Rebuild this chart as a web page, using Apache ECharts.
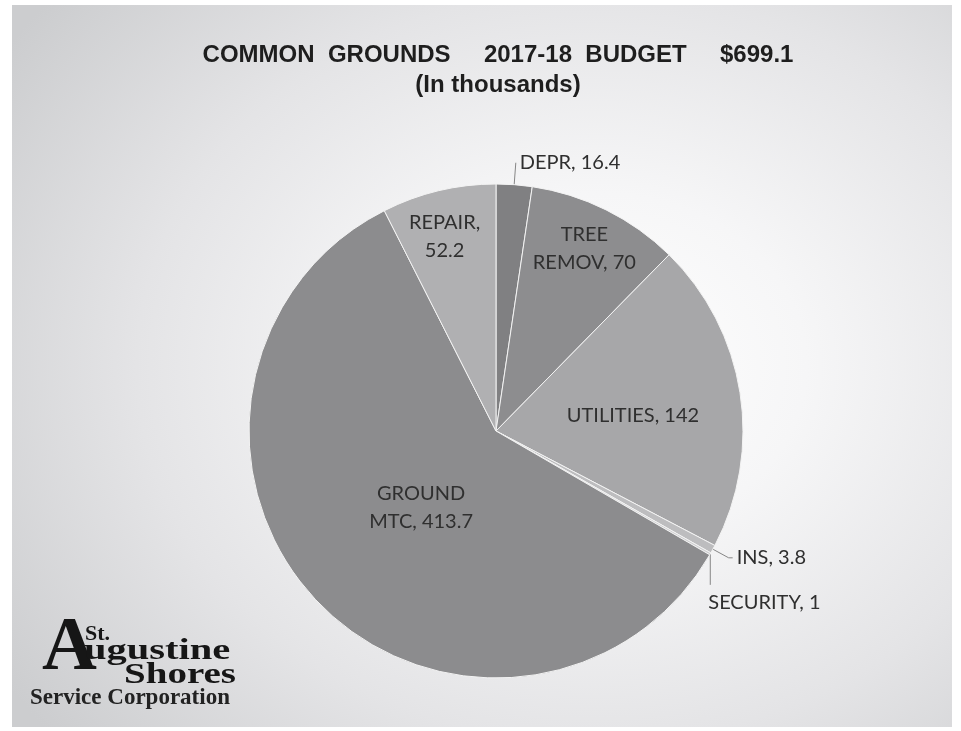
<!DOCTYPE html>
<html>
<head>
<meta charset="utf-8">
<script src="https://cdn.jsdelivr.net/npm/echarts@6/dist/echarts.min.js"></script>
<style>
  html, body { margin: 0; padding: 0; background: #ffffff; width: 961px; height: 731px; overflow: hidden; }
  #chart {
    position: absolute; left: 12px; top: 5px; width: 940px; height: 722px;
    background: radial-gradient(ellipse 75% 80% at 62% 50%, #ffffff 0%, #f6f6f7 30%, #e4e4e6 65%, #cccdcf 100%);
  }
</style>
</head>
<body>
<div id="chart"></div>
<script>
// ---- data ----
const titleLine1 = 'COMMON  GROUNDS     2017-18  BUDGET     $699.1';
const titleLine2 = '(In thousands)';
const categories = ['DEPR', 'TREE REMOV', 'UTILITIES', 'INS', 'SECURITY', 'GROUND MTC', 'REPAIR'];
const values = [16.4, 70, 142, 3.8, 1, 413.7, 52.2];
const sliceColors = ['#808082', '#8d8d8f', '#a7a7a9', '#bdbdbf', '#cfcfd1', '#8c8c8e', '#b0b0b2'];

// ---- label styling (per slice) ----
const labelStyle = {
  'DEPR':       { position: 'outside', fmt: '{b}, {c}', line: [22, 0] },
  'TREE REMOV': { position: 'inside', fmt: 'wrapName', dx: 32, dy: -69 },
  'UTILITIES':  { position: 'inside', fmt: '{b}, {c}', dx: 12, dy: 4 },
  'INS':        { position: 'outside', fmt: '{b}, {c}', line: [18, 4] },
  'SECURITY':   { position: 'outside', fmt: '{b}, {c}', line: [10, 0], drop: true },
  'GROUND MTC': { position: 'inside', fmt: 'wrapName', dx: 17, dy: -10 },
  'REPAIR':     { position: 'inside', fmt: '{b},\n{c}', dx: -22, dy: -71 }
};

const chart = echarts.init(document.getElementById('chart'), null, { renderer: 'canvas' });

const seriesData = categories.map(function (name, i) {
  const st = labelStyle[name];
  const item = {
    name: name,
    value: values[i],
    itemStyle: { color: sliceColors[i] },
    label: {
      position: st.position,
      formatter: st.fmt === 'wrapName'
        ? function (p) { return p.name.replace(' ', '\n') + ', ' + p.value; }
        : st.fmt
    }
  };
  if (st.position === 'outside') {
    item.labelLine = { show: true, length: st.line[0], length2: st.line[1] };
  } else {
    item.labelLine = { show: false };
  }
  return item;
});

const logoFill = '#161616';
const option = {
  backgroundColor: 'transparent',
  animation: false,
  title: {
    text: titleLine1 + '\n' + titleLine2,
    left: 481,
    top: 30,
    textAlign: 'center',
    textStyle: {
      fontFamily: 'Liberation Sans, Arial, sans-serif',
      fontWeight: 'bold',
      fontSize: 24,
      lineHeight: 30,
      color: '#1e1e1e'
    }
  },
  graphic: [
    { type: 'text', x: 30, y: 606, style: { text: 'A', font: 'bold 76px "Liberation Serif", serif', fill: logoFill } },
    { type: 'text', x: 73, y: 618, style: { text: 'St.', font: 'bold 22px "Liberation Serif", serif', fill: logoFill } },
    { type: 'text', x: 72, y: 631, scaleX: 1.35, style: { text: 'ugustine', font: 'bold 30px "Liberation Serif", serif', fill: logoFill } },
    { type: 'text', x: 112, y: 655, scaleX: 1.3, style: { text: 'Shores', font: 'bold 30px "Liberation Serif", serif', fill: logoFill } },
    { type: 'text', x: 18, y: 682, style: { text: 'Service Corporation', font: 'bold 23px "Liberation Serif", serif', fill: '#222222' } }
  ],
  series: [{
    type: 'pie',
    center: [484, 426],
    radius: 247,
    startAngle: 90,
    clockwise: true,
    avoidLabelOverlap: false,
    itemStyle: { borderColor: '#f2f2f2', borderWidth: 1 },
    label: {
      show: true,
      fontFamily: 'Lato, "Open Sans", sans-serif',
      fontSize: 20,
      lineHeight: 28,
      color: '#2f2f2f',
      distanceToLabelLine: 4
    },
    labelLine: { lineStyle: { color: '#858585', width: 1 } },
    emphasis: { disabled: true },
    labelLayout: function (params) {
      const name = categories[params.dataIndex];
      const st = labelStyle[name];
      if (st.position === 'inside') {
        return { dx: st.dx, dy: st.dy };
      }
      if (st.drop && params.labelLinePoints) {
        const p0 = params.labelLinePoints[0];
        return {
          x: p0[0] - 2,
          y: p0[1] + 49,
          align: 'left',
          verticalAlign: 'middle',
          labelLinePoints: [[p0[0], p0[1]], [p0[0], p0[1] + 31]]
        };
      }
      return {};
    },
    data: seriesData
  }]
};

chart.setOption(option);
</script>
</body>
</html>
